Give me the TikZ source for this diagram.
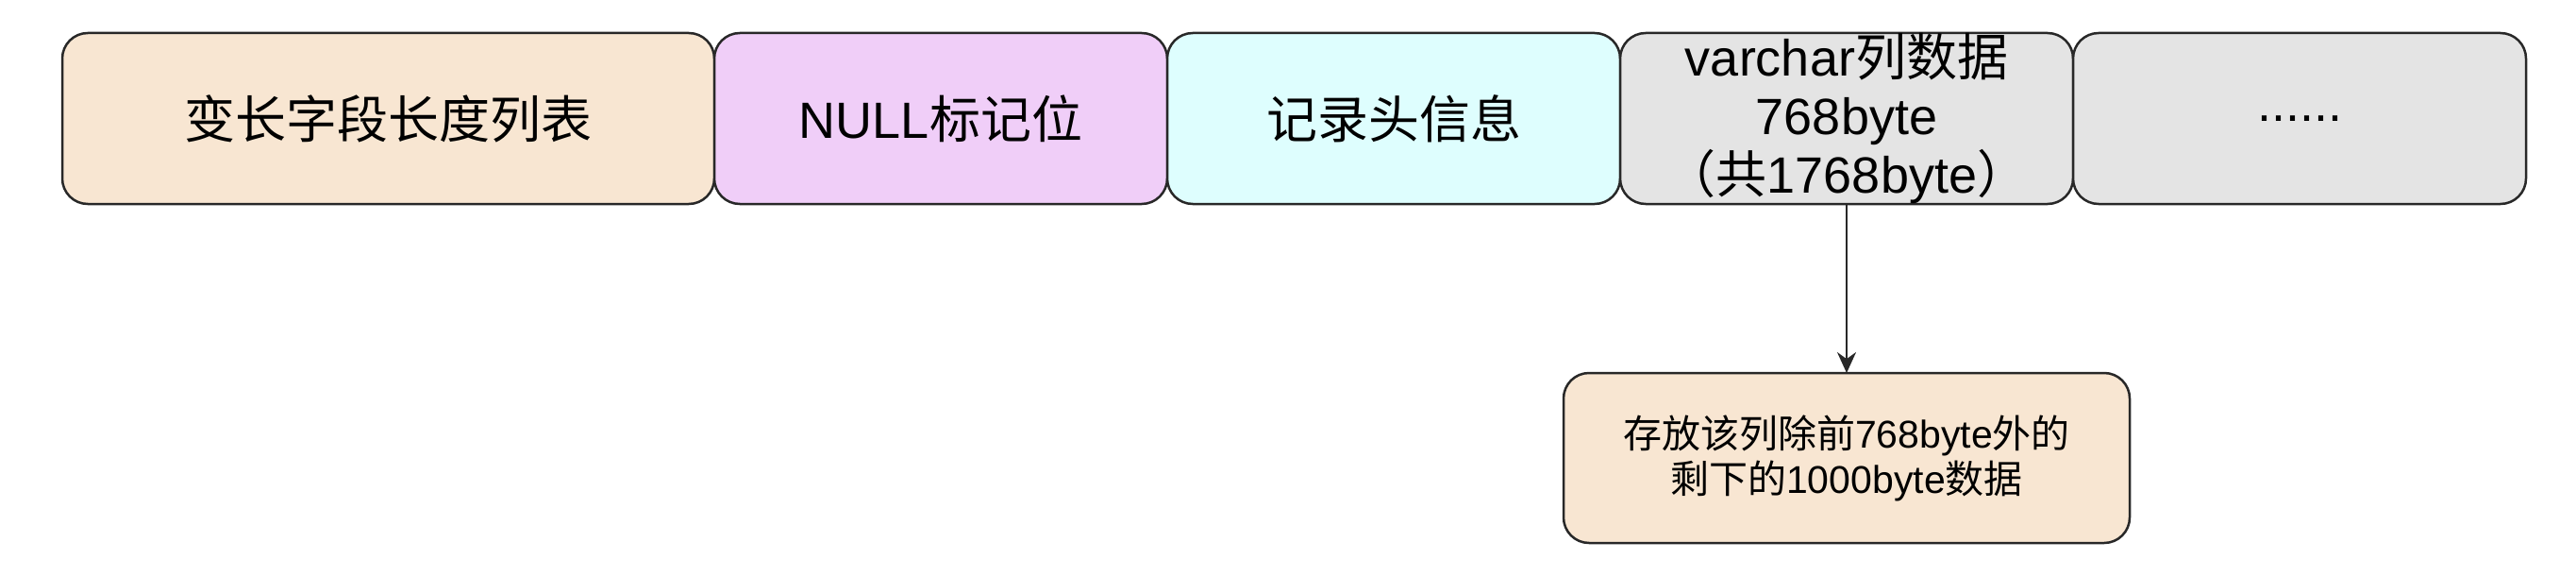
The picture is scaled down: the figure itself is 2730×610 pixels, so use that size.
\documentclass[tikz,border=0pt]{standalone}
\usepackage{fontspec}
\setmainfont{Liberation Sans}
\newfontfamily\cjk{Noto Sans CJK SC}
\usetikzlibrary{arrows.meta,positioning}
\definecolor{peach}{RGB}{248,230,210}
\definecolor{orchid}{RGB}{240,206,248}
\definecolor{aqua}{RGB}{222,254,254}
\definecolor{ash}{RGB}{228,228,228}
\definecolor{rim}{RGB}{40,40,40}
\tikzset{
    field/.style={
           rectangle,
           rounded corners=27pt,
           draw=rim, line width=2.5pt,
           minimum width=480pt,
           minimum height=181pt,
           inner sep=0pt,
           outer sep=0pt,
           align=center,
           font=\fontsize{54}{62}\selectfont,
           },
    note/.style={
           field,
           minimum width=600pt,
           minimum height=180pt,
           font=\fontsize{41}{48}\selectfont,
           },
    pil/.style={
           -{Stealth[length=22pt,width=20pt]},
           line width=2.5pt,
           draw=rim,}
}
\begin{document}
\begin{tikzpicture}[x=1pt,y=1pt]
\useasboundingbox (0,0) rectangle (2730,-610);
% ROW FORMAT
% Position of variable length list (LENLIST)
\node[field, fill=peach, minimum width=691pt, anchor=north west] (LENLIST) at (66,-35)
{{\cjk 变长字段长度列表}};
% Position of NULL flags (NULLBITS)
\node[field, fill=orchid, right=0pt of LENLIST] (NULLBITS)
{NULL{\cjk 标记位}};
% Position of record header (HEADER)
\node[field, fill=aqua, right=0pt of NULLBITS] (HEADER)
{{\cjk 记录头信息}};
% Position of varchar column (VARCHAR)
\node[field, fill=ash, right=0pt of HEADER] (VARCHAR)
{varchar{\cjk 列数据}\\
768byte\\
{\cjk （共}1768byte{\cjk ）}};
% Position of further columns (MORE)
\node[field, fill=ash, right=0pt of VARCHAR] (MORE)
{......};
% Position of overflow page (OVERFLOW)
\node[note, fill=peach, below=179pt of VARCHAR] (OVERFLOW)
{{\cjk 存放该列除前}768byte{\cjk 外的}\\
{\cjk 剩下的}1000byte{\cjk 数据}};
% Draw lines on graph
\path (VARCHAR) edge[pil] (OVERFLOW);
\end{tikzpicture}
\end{document}
